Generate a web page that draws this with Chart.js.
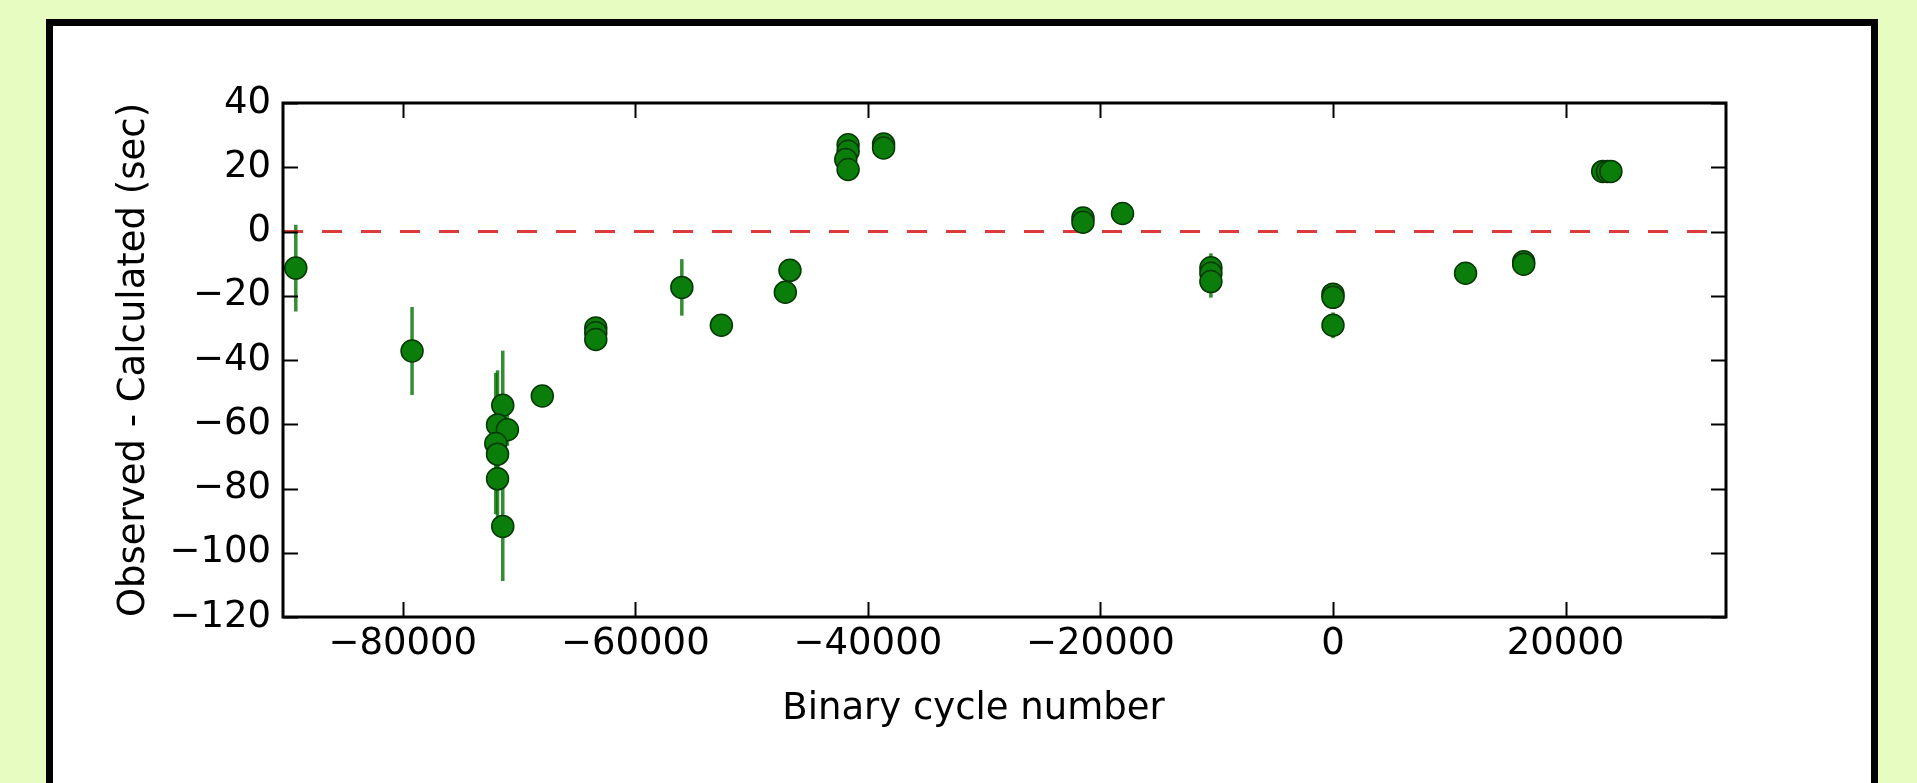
<!DOCTYPE html>
<html>
<head>
<meta charset="utf-8">
<script src="https://cdn.jsdelivr.net/npm/chart.js@4.4.1/dist/chart.umd.min.js"></script>
<style>
  html, body { margin: 0; padding: 0; overflow: hidden; }
  body { background: #e6fcc1; width: 1917px; height: 783px; position: relative; }
  #box {
    position: absolute; left: 46px; top: 19px;
    width: 1818px; height: 820px;
    border: 7px solid #000; background: #fff;
  }
  #oc { position: absolute; left: 0; top: 0; }
</style>
</head>
<body>
<div id="box"></div>
<canvas id="oc" width="1917" height="783"></canvas>
<script>
// cycle number, O-C (sec) and error bar half length (sec)
let cycles = [-89200, -79200, -71400, -71850, -71000, -72000, -71850, -71850, -71400,
    -68000, -63400, -63400, -63400, -56000, -52600, -46700, -47100,
    -41700, -41700, -41900, -41700, -38650, -38650,
    -21500, -21500, -18100, -10500, -10500, -10500,
    0, 0, 0, 11400, 16400, 16400, 23200, 23600, 23900];
let oc = [-11.4, -37.2, -54.1, -60.2, -61.7, -66.0, -69.3, -77.0, -91.8,
    -51.2, -30.0, -31.5, -33.6, -17.4, -29.2, -12.1, -18.9,
    27.0, 25.0, 22.4, 19.3, 27.2, 26.0,
    4.2, 2.9, 5.6, -11.3, -13.0, -15.6,
    -19.5, -20.5, -29.2, -13.0, -9.4, -10.2, 18.7, 18.7, 18.7];
let ocErr = [13.5, 13.7, 17, 17, 5, 22, 10, 15, 17,
    1.5, 1.5, 1.5, 1.5, 8.8, 1, 1, 1,
    3, 2, 2, 2, 3, 2,
    1, 1, 1, 4.5, 3, 5,
    1, 1, 4, 1, 1, 1, 1, 1, 1];

let xTicks = [-80000, -60000, -40000, -20000, 0, 20000];
let yTicks = [-120, -100, -80, -60, -40, -20, 0, 20, 40];
let xRange = [-90300, 33800];
let yRange = [-120, 40];
let zeroLine = [0, 0];
let xLabel = "Binary cycle number";
let yLabel = "Observed - Calculated (sec)";

let points = cycles.map(function (c, i) { return {x: c, y: oc[i]}; });
let refLine = xRange.map(function (c, i) { return {x: c, y: zeroLine[i]}; });

function minusLabel(v) {
    return v < 0 ? "\u2212" + Math.abs(v) : String(v);
}

// vertical error bars under the markers
let errorBars = {
    id: "errorBars",
    beforeDatasetsDraw: function (chart) {
        let ctx = chart.ctx;
        let xs = chart.scales.x, ys = chart.scales.y;
        ctx.save();
        ctx.strokeStyle = "rgba(0,112,0,0.8)";
        ctx.lineWidth = 3.5;
        for (let i = 0; i < cycles.length; i++) {
            let px = xs.getPixelForValue(cycles[i]);
            ctx.beginPath();
            ctx.moveTo(px, ys.getPixelForValue(oc[i] + ocErr[i]));
            ctx.lineTo(px, ys.getPixelForValue(oc[i] - ocErr[i]));
            ctx.stroke();
        }
        ctx.restore();
    }
};

// box around the axes with ticks pointing inwards on all four sides,
// plus the x label, which sits a little left of the axes centre
let frame = {
    id: "frame",
    afterDraw: function (chart) {
        let ctx = chart.ctx;
        let a = chart.chartArea;
        let xs = chart.scales.x, ys = chart.scales.y;
        let len = 15;
        ctx.save();
        ctx.strokeStyle = "#000";
        ctx.lineWidth = 2;
        ctx.beginPath();
        xs.ticks.forEach(function (t) {
            let px = Math.round(xs.getPixelForValue(t.value)) + 0.5;
            ctx.moveTo(px, a.bottom); ctx.lineTo(px, a.bottom - len);
            ctx.moveTo(px, a.top); ctx.lineTo(px, a.top + len);
        });
        ys.ticks.forEach(function (t) {
            let py = Math.round(ys.getPixelForValue(t.value)) + 0.5;
            ctx.moveTo(a.left, py); ctx.lineTo(a.left + len, py);
            ctx.moveTo(a.right, py); ctx.lineTo(a.right - len, py);
        });
        ctx.stroke();
        ctx.lineWidth = 3;
        ctx.strokeRect(a.left, a.top, a.right - a.left, a.bottom - a.top);

        ctx.fillStyle = "#000";
        ctx.font = "37px 'DejaVu Sans', sans-serif";
        ctx.textAlign = "center";
        ctx.textBaseline = "middle";
        ctx.fillText(xLabel, (a.left + a.right) / 2 - 31, a.bottom + 92);
        ctx.restore();
    }
};

Chart.defaults.font.family = "'DejaVu Sans', sans-serif";
Chart.defaults.font.size = 37;
Chart.defaults.color = "#000";

let chart = new Chart(document.getElementById("oc").getContext("2d"), {
    type: "scatter",
    data: {
        datasets: [{
            data: points,
            order: 0,
            pointRadius: 11,
            pointHoverRadius: 11,
            backgroundColor: "#0a7d0a",
            borderColor: "#053805",
            borderWidth: 1.5
        }, {
            type: "line",
            data: refLine,
            order: 1,
            borderColor: "rgba(215,25,25,0.85)",
            borderWidth: 3,
            borderDash: [20, 19],
            pointRadius: 0,
            fill: false
        }]
    },
    options: {
        responsive: false,
        animation: false,
        events: [],
        layout: {padding: {left: 112, top: 103, right: 191, bottom: 52}},
        plugins: {legend: {display: false}, tooltip: {enabled: false}},
        scales: {
            x: {
                type: "linear",
                min: xRange[0],
                max: xRange[1],
                grid: {display: false, drawTicks: false},
                border: {display: false},
                afterBuildTicks: function (s) { s.ticks = xTicks.map(function (v) { return {value: v}; }); },
                afterFit: function (s) { s.height = 114; },
                ticks: {padding: 5, maxRotation: 0, callback: minusLabel}
            },
            y: {
                type: "linear",
                min: yRange[0],
                max: yRange[1],
                grid: {display: false, drawTicks: false},
                border: {display: false},
                afterBuildTicks: function (s) { s.ticks = yTicks.map(function (v) { return {value: v}; }); },
                afterFit: function (s) { s.width = 171; },
                ticks: {padding: 12, callback: minusLabel},
                title: {display: true, text: yLabel, padding: 0}
            }
        }
    },
    plugins: [errorBars, frame]
});
</script>
</body>
</html>
